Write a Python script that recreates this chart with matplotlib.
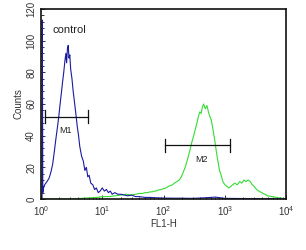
import numpy as np
import matplotlib.pyplot as plt
from matplotlib.ticker import MultipleLocator, LogLocator, NullFormatter

plt.rcParams['font.family'] = ['Liberation Sans', 'DejaVu Sans']

# control histogram (blue), FL1-H vs counts
ctrl_x = [1.04, 1.05, 1.07, 1.1, 1.15, 1.25, 1.35, 1.45, 1.55, 1.65, 1.75, 1.85, 1.95, 2.05,
          2.15, 2.25, 2.35, 2.45, 2.55, 2.62, 2.7, 2.78, 2.86, 2.95, 3.05, 3.2, 3.35, 3.5,
          3.7, 3.9, 4.1, 4.3, 4.6, 4.9, 5.2, 5.5, 5.8, 6.1, 6.5, 7.0, 7.5, 8.0, 8.6, 9.2,
          10.0, 10.8, 11.7, 12.6, 13.5, 14.5, 16, 18, 20, 23, 26, 30, 35, 40, 50, 60,
          80, 100, 150, 200, 300, 500, 700, 1000, 2000, 5000, 10000]
ctrl_y = [0, 113, 4, 7, 9, 11, 13, 17, 22, 30, 38, 45, 52, 60,
          67, 74, 80, 87, 92, 86, 95, 97, 89, 91, 82, 76, 68, 62,
          54, 46, 40, 33, 27, 24, 18, 20, 14, 15, 10, 9, 6, 7, 4, 5,
          7, 5, 6, 4, 5, 3, 4, 3, 3, 2.5, 2, 2.5, 1.5, 1.5, 1, 1,
          0.7, 0.6, 0.5, 0.5, 0.4, 0.8, 1.2, 0.4, 0.3, 0.2, 0]

# sample histogram (green)
smp_x = [1.0, 3, 5, 8, 10, 13, 16, 20, 25, 30, 35, 40, 45, 50, 55, 60, 65, 70, 75, 80,
         90, 100, 110, 120, 130, 140, 150, 165, 180, 195, 210, 230, 250, 270, 290, 310,
         330, 350, 370, 390, 410, 430, 450, 480, 510, 540, 570, 600, 640, 680, 720, 770,
         820, 870, 930, 1000, 1080, 1160, 1250, 1350, 1450, 1600, 1750, 1900, 2050,
         2200, 2400, 2600, 2800, 3000, 3300, 3600, 4000, 4500, 5000, 6000, 7000, 8500, 10000]
smp_y = [0, 0, 0.5, 1, 1.5, 1.5, 2, 2.5, 3, 2.5, 3, 3.5, 3.5, 4, 4, 4.5, 4.5, 5, 5, 5.5,
         6, 6.5, 7, 8, 8.5, 9, 10, 11, 12, 14, 17, 21, 26, 31, 36, 40,
         44, 48, 52, 55, 54, 58, 60, 57, 59, 55, 52, 50, 44, 38, 31, 24,
         18, 15, 11, 9, 8, 7, 8, 9, 10, 9, 11, 10, 12,
         11, 12, 11, 9, 8, 6, 5, 4, 3, 2, 1.5, 1, 0.5, 0]

fig = plt.figure(figsize=(3.06, 2.5), dpi=100)
ax = fig.add_axes([0.134, 0.204, 0.801, 0.76])

ax.plot(smp_x, smp_y, color='#33dd33', lw=0.8)
ax.plot(ctrl_x, ctrl_y, color='#1a1aa0', lw=0.8)

ax.set_xscale('log')
ax.set_xlim(1, 1e4)
ax.set_ylim(0, 120)

# markers M1 / M2
for (x0, x1, y, lab, lx, ly) in [(1.15, 5.9, 52, 'M1', 2.5, 43), (105, 1230, 34, 'M2', 420, 25)]:
    ax.plot([x0, x1], [y, y], color='#111111', lw=0.9)
    ax.plot([x0, x0], [y - 4, y + 4], color='#111111', lw=0.9)
    ax.plot([x1, x1], [y - 4, y + 4], color='#111111', lw=0.9)
    ax.text(lx, ly, lab, fontsize=6.5, ha='center', va='center', color='#222222')

ax.text(1.55, 107, 'control', fontsize=8, color='#222222', va='center')

ax.yaxis.set_major_locator(MultipleLocator(20))
ax.yaxis.set_minor_locator(MultipleLocator(4))
ax.xaxis.set_major_locator(LogLocator(base=10))
ax.xaxis.set_minor_locator(LogLocator(base=10, subs=np.arange(2, 10)))
ax.xaxis.set_minor_formatter(NullFormatter())
ax.tick_params(which='both', direction='in', labelsize=7, colors='#333333', width=0.7)
ax.tick_params(which='major', length=3)
ax.tick_params(which='minor', length=1.8)
plt.setp(ax.get_yticklabels(), rotation=90, va='center')

for s in ax.spines.values():
    s.set_linewidth(1.2)
    s.set_color('#111111')

ax.set_ylabel('Counts', fontsize=7, color='#333333', labelpad=2)
ax.set_xlabel('FL1-H', fontsize=7, color='#333333', labelpad=1)

fig.savefig('out.png', dpi=100)
